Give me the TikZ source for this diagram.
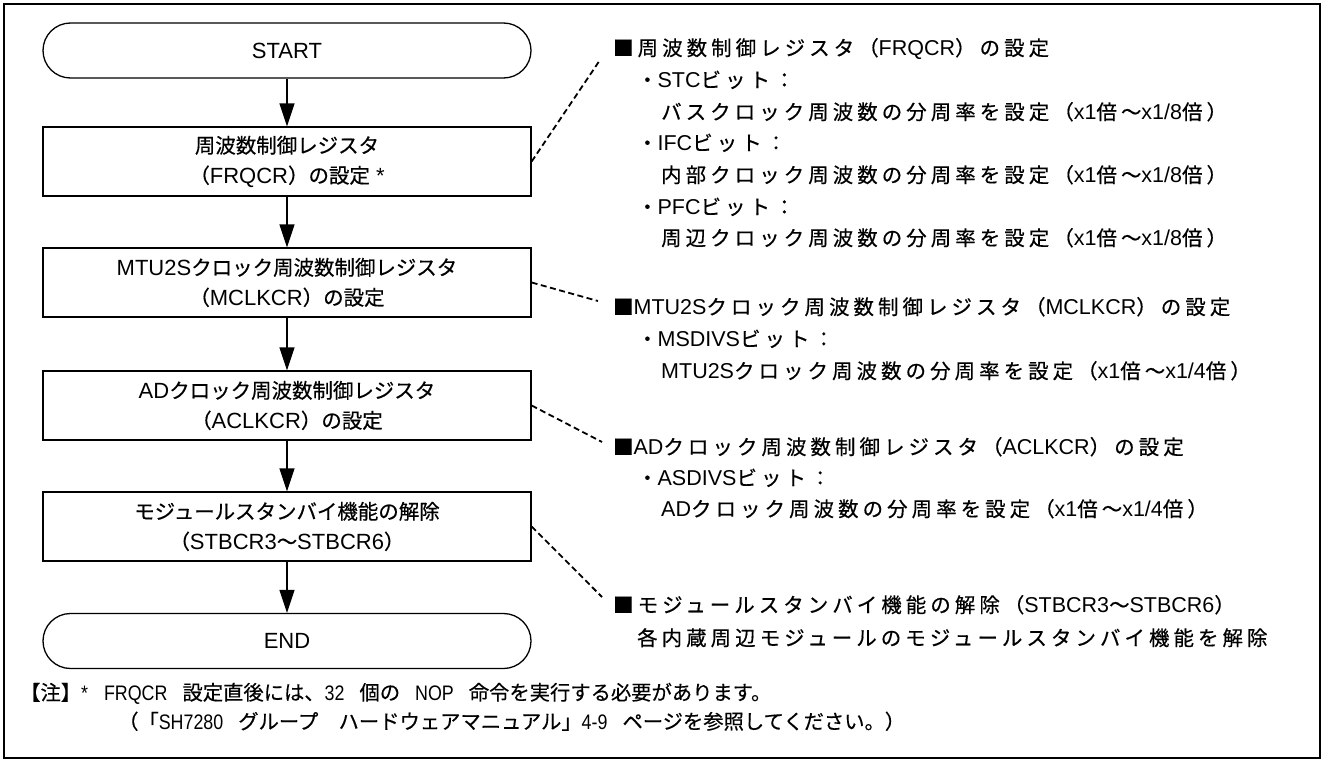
\documentclass[tikz,border=0pt]{standalone}
\usepackage{fontspec}
\setmainfont{Liberation Sans}
\newfontfamily\jpf[Scale=0.93,FakeBold=0.5]{Noto Sans CJK JP}
\newfontfamily\jpsp[Scale=0.95,LetterSpace=20,FakeBold=0.5]{Noto Sans CJK JP}
\newfontfamily\jpn[Scale=0.967,FakeBold=0.4]{Noto Sans CJK JP}
\newfontfamily\nrw[FakeStretch=0.85]{Liberation Sans}
\usetikzlibrary{arrows.meta}
\newcommand\J[1]{{\jpf #1}}
\newcommand\JS[1]{{\jpsp #1}}
\newcommand\JN[1]{{\jpn #1}}
\newcommand\gap{\hspace{15pt}}
\tikzset{
  flowbox/.style={draw, line width=1.3pt, minimum width=488pt, minimum height=69pt,
    align=center, inner sep=0pt, font=\fontsize{22}{30}\selectfont},
  termbox/.style={flowbox, minimum height=55pt, rounded corners=27.5pt},
  flowarrow/.style={line width=1.3pt, -{Triangle[length=23pt,width=15pt]}},
  leader/.style={line width=1.8pt, dash pattern=on 6pt off 3.5pt},
  rtext/.style={anchor=base west, inner sep=0pt, font=\fontsize{21.5}{30}\selectfont},
  notetext/.style={anchor=base west, inner sep=0pt, font={\fontsize{21}{28}\selectfont\nrw}},
  framebox/.style={draw, line width=2pt, inner sep=0pt, minimum width=1316pt, minimum height=754pt}
}
\begin{document}
\begin{tikzpicture}[x=1pt,y=-1pt]
\useasboundingbox (0,0) rectangle (1323,760);
\fill[white] (0,0) rectangle (1323,760);
\node[framebox] (frame) at (662,381) {};

% flowchart
\node[termbox] (start) at (287,50.5) {START};
\node[flowbox] (b1) at (287,161.5) {\J{周波数制御レジスタ}\\\J{（}FRQCR\J{）の設定} *};
\node[flowbox] (b2) at (287,282.5) {MTU2S\J{クロック周波数制御レジスタ}\\\J{（}MCLKCR\J{）の設定}};
\node[flowbox] (b3) at (287,405.5) {AD\J{クロック周波数制御レジスタ}\\\J{（}ACLKCR\J{）の設定}};
\node[flowbox] (b4) at (287,526.5) {\J{モジュールスタンバイ機能の解除}\\\J{（}STBCR3\J{～}STBCR6\J{）}};
\node[termbox] (end) at (287,641) {END};

\draw[flowarrow] (start) -- (b1);
\draw[flowarrow] (b1) -- (b2);
\draw[flowarrow] (b2) -- (b3);
\draw[flowarrow] (b3) -- (b4);
\draw[flowarrow] (b4) -- (end);

% right-hand text
\node[rtext] (r1) at (613,55.5) {\JS{■周波数制御レジスタ（}FRQCR\JS{）の設定}};
\node[rtext] (r2) at (637,87.5) {\JS{・}STC\JS{ビット：}};
\node[rtext] (r3) at (661,119.5) {\JS{バスクロック周波数の分周率を設定（}x1\JS{倍～}x1/8\JS{倍）}};
\node[rtext] (r4) at (637,150.5) {\JS{・}IFC\JS{ビット：}};
\node[rtext] (r5) at (661,182.5) {\JS{内部クロック周波数の分周率を設定（}x1\JS{倍～}x1/8\JS{倍）}};
\node[rtext] (r6) at (637,214.5) {\JS{・}PFC\JS{ビット：}};
\node[rtext] (r7) at (661,245.5) {\JS{周辺クロック周波数の分周率を設定（}x1\JS{倍～}x1/8\JS{倍）}};

\node[rtext] (m1) at (613,314.5) {\JS{■}MTU2S\JS{クロック周波数制御レジスタ（}MCLKCR\JS{）の設定}};
\node[rtext] (m2) at (637,346.5) {\JS{・}MSDIVS\JS{ビット：}};
\node[rtext] (m3) at (661,378.5) {MTU2S\JS{クロック周波数の分周率を設定（}x1\JS{倍～}x1/4\JS{倍）}};

\node[rtext] (a1) at (613,454.5) {\JS{■}AD\JS{クロック周波数制御レジスタ（}ACLKCR\JS{）の設定}};
\node[rtext] (a2) at (637,485.5) {\JS{・}ASDIVS\JS{ビット：}};
\node[rtext] (a3) at (661,516.5) {AD\JS{クロック周波数の分周率を設定（}x1\JS{倍～}x1/4\JS{倍）}};

\node[rtext] (s1) at (613,612.5) {\JS{■モジュールスタンバイ機能の解除（}STBCR3\JS{～}STBCR6\JS{）}};
\node[rtext] (s2) at (637,645.5) {\JS{各内蔵周辺モジュールのモジュールスタンバイ機能を解除}};

% leader lines
\coordinate (d1) at (600,60);
\coordinate (d2) at (598,301);
\coordinate (d3) at (602,442);
\coordinate (d4) at (602,597);
\draw[leader] (b1.east) -- (d1);
\draw[leader] (b2.east) -- (d2);
\draw[leader] (b3.east) -- (d3);
\draw[leader] (b4.east) -- (d4);

% note
\node[notetext] (n1) at (20,700) {\JN{【注】}*\hspace{16pt}FRQCR\gap\JN{設定直後には、}32\gap\JN{個の}\gap NOP\gap\JN{命令を実行する必要があります。}};
\node[notetext] (n2) at (118,729) {\JN{（「}SH7280\gap\JN{グループ　ハードウェアマニュアル」}4-9\gap\JN{ページを参照してください。）}};
\end{tikzpicture}
\end{document}
